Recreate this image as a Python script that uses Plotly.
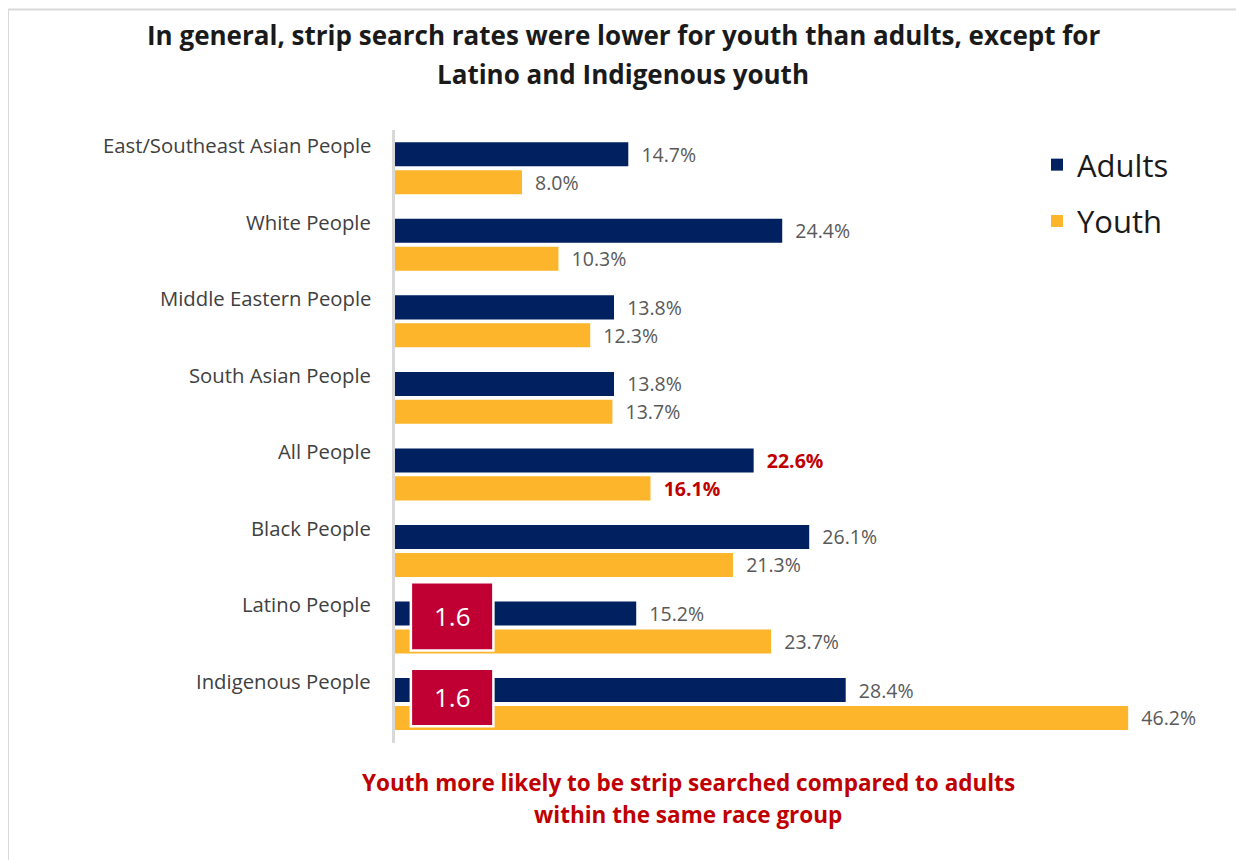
import plotly.graph_objects as go

categories = ["East/Southeast Asian People", "White People", "Middle Eastern People",
              "South Asian People", "All People", "Black People", "Latino People",
              "Indigenous People"]
adults = [14.7, 24.4, 13.8, 13.8, 22.6, 26.1, 15.2, 28.4]
youth = [8.0, 10.3, 12.3, 13.7, 16.1, 21.3, 23.7, 46.2]
highlight_category = "All People"

title_lines = ["<b>In general, strip search rates were lower for youth than adults, except for</b>",
               "<b>Latino and Indigenous youth</b>"]
note_lines = ["<b>Youth more likely to be strip searched compared to adults</b>",
              "<b>within the same race group</b>"]

OFF = 8  # page body margin
W, H = 1236, 852
# plot area in screen pixels
PL, PR, PT, PB = 395, 1230, 130, 743
ML, MR, MT, MB = PL - OFF, W - (PR - OFF), PT - OFF, H - (PB - OFF)
PW, PH = PR - PL, PB - PT
PX_PER_UNIT = 15.87
XMAX = PW / PX_PER_UNIT

NAVY = "#002060"
GOLD = "#FDB52B"
RED_BOX = "#C00032"
RED_TXT = "#C00000"
LBL = "#595959"
FONT = "Open Sans"


def px_x(px):
    return (px - PL) / PW


def px_y(py):
    return (PB - py) / PH


def labels(vals):
    out, cols = [], []
    for c, v in zip(categories, vals):
        s = f"{v:.1f}%"
        if c == highlight_category:
            out.append("\u00a0\u00a0<b>" + s + "</b>")
            cols.append(RED_TXT)
        else:
            out.append("\u00a0\u00a0" + s)
            cols.append(LBL)
    return out, cols


at, ac = labels(adults)
yt, yc = labels(youth)

fig = go.Figure()
fig.add_trace(go.Bar(name="Adults", y=categories, x=adults, orientation="h",
                     marker=dict(color=NAVY, line=dict(width=0)),
                     text=at, textposition="outside", cliponaxis=False,
                     constraintext="none",
                     textfont=dict(color=ac, size=19.5, family=FONT),
                     legendgroup="a", hoverinfo="skip"))
fig.add_trace(go.Bar(name="Youth", y=categories, x=youth, orientation="h",
                     marker=dict(color=GOLD, line=dict(width=0)),
                     text=yt, textposition="outside", cliponaxis=False,
                     constraintext="none",
                     textfont=dict(color=yc, size=19.5, family=FONT),
                     legendgroup="y", hoverinfo="skip"))

shapes = []
annotations = []

# category labels (above the adult bar)
for c in categories:
    annotations.append(dict(text=c, xref="paper", x=px_x(373), xanchor="right",
                            yref="y", y=c, yshift=23, showarrow=False,
                            font=dict(size=20.3, color="#404040", family=FONT)))

# ratio boxes where youth rate exceeds adult rate
box_extent = {"Latino People": (-0.59, 0.30), "Indigenous People": (-0.46, 0.29)}
for i, (c, a, yv) in enumerate(zip(categories, adults, youth)):
    if yv > a:
        d0, d1 = box_extent.get(c, (-0.5, 0.3))
        shapes.append(dict(type="rect", xref="x", yref="y",
                           x0=1.0, x1=6.2, y0=i + d0, y1=i + d1,
                           fillcolor=RED_BOX, line=dict(color="white", width=2.5),
                           layer="above"))
        annotations.append(dict(text=f"{yv / a:.1f}", xref="x", yref="y",
                                x=3.6, y=i + (d0 + d1) / 2, showarrow=False,
                                font=dict(size=26, color="white", family=FONT)))

# title
for txt, py in zip(title_lines, [35, 74]):
    annotations.append(dict(text=txt, xref="paper", yref="paper",
                            x=px_x(623), y=px_y(py), xanchor="center", yanchor="middle",
                            showarrow=False, font=dict(size=26, color="#1a1a1a", family=FONT)))
# bottom note
for txt, py in zip(note_lines, [782, 815]):
    annotations.append(dict(text=txt, xref="paper", yref="paper",
                            x=px_x(688), y=px_y(py), xanchor="center", yanchor="middle",
                            showarrow=False, font=dict(size=22.5, color=RED_TXT, family=FONT)))

# frame lines (top & left) of the original chart area
shapes.append(dict(type="line", xref="paper", yref="paper", x0=px_x(8), x1=px_x(1260),
                   y0=px_y(9.5), y1=px_y(9.5), line=dict(color="#D9D9D9", width=2), layer="below"))
shapes.append(dict(type="line", xref="paper", yref="paper", x0=px_x(8), x1=px_x(8),
                   y0=px_y(9.5), y1=px_y(880), line=dict(color="#D9D9D9", width=2), layer="below"))

fig.update_layout(
    width=W, height=H,
    margin=dict(l=ML, r=MR, t=MT, b=MB, pad=0),
    paper_bgcolor="white", plot_bgcolor="white",
    barmode="group", bargap=0.27, bargroupgap=0.14,
    font=dict(family=FONT, color="#404040"),
    xaxis=dict(range=[0, XMAX], visible=False, fixedrange=True),
    yaxis=dict(type="category", categoryorder="array", categoryarray=categories,
               autorange="reversed", showticklabels=False, ticks="",
               showline=True, linecolor="#D9D9D9", linewidth=3, showgrid=False,
               zeroline=False, fixedrange=True),
    showlegend=True,
    legend=dict(x=px_x(1037), y=px_y(138), xanchor="left", yanchor="top",
                traceorder="grouped", tracegroupgap=13,
                font=dict(size=31, color="#1a1a1a", family=FONT),
                bgcolor="rgba(0,0,0,0)"),
    shapes=shapes, annotations=annotations,
)

fig.write_html("out.html")
